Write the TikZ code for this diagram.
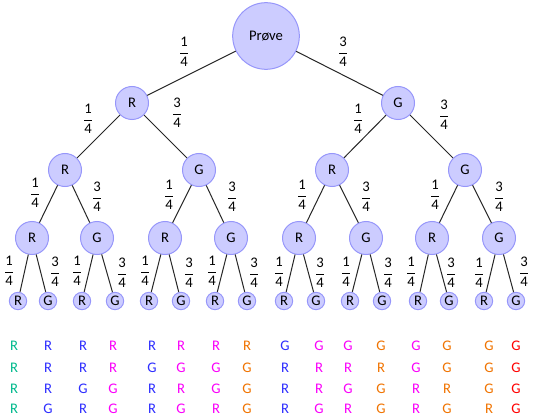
\documentclass[tikz,border=0pt]{standalone}
\usepackage{fontspec}
\setmainfont{Carlito}

\definecolor{knotfill}{RGB}{204,204,255}
\definecolor{knotline}{RGB}{150,150,250}
\definecolor{nullG}{RGB}{0,185,140}
\definecolor{einG}{RGB}{45,45,255}
\definecolor{toG}{RGB}{250,0,250}
\definecolor{treG}{RGB}{240,115,0}
\definecolor{fireG}{RGB}{255,0,0}

\newcommand{\frc}[2]{$\displaystyle\frac{\textrm{#1}}{\textrm{#2}}$}

\tikzset{every picture/.style={line width=0.75pt}}
\tikzset{
  knot/.style={circle,draw=knotline,fill=knotfill,inner sep=0pt,minimum size=24.75pt,font=\fontsize{11}{13}\selectfont},
  leaf/.style={knot,minimum size=13pt},
  gren/.style={draw=black!85},
  prob/.style={inner sep=0.75pt,font=\fontsize{11}{13}\selectfont},
  utfall/.style={inner sep=0.75pt,font=\fontsize{11}{13}\selectfont}
}

\begin{document}
\begin{tikzpicture}[x=0.75pt,y=0.75pt,yscale=-1,xscale=1]
		\useasboundingbox (0,0) rectangle (534,420);
		
		%root and first levels
		\node [knot,minimum size=50pt] (p) at (266,36) {Prøve};
		\node [knot] (r) at (132,103) {R};
		\node [knot] (g) at (398,103) {G};
		\node [knot] (rr) at (65,170) {R};
		\node [knot] (rg) at (199,170) {G};
		\node [knot] (gr) at (332,170) {R};
		\node [knot] (gg) at (465,170) {G};
		\node [knot] (rrr) at (32,238) {R};
		\node [knot] (rrg) at (97,238) {G};
		\node [knot] (rgr) at (165,238) {R};
		\node [knot] (rgg) at (231,238) {G};
		\node [knot] (grr) at (299,238) {R};
		\node [knot] (grg) at (366,238) {G};
		\node [knot] (ggr) at (432,238) {R};
		\node [knot] (ggg) at (499,238) {G};
		
		%leaves
		\node [leaf] (rrrr) at (18,301) {R};
		\node [leaf] (rrrg) at (48,301) {G};
		\node [leaf] (rrgr) at (82,301) {R};
		\node [leaf] (rrgg) at (115,301) {G};
		\node [leaf] (rgrr) at (149,301) {R};
		\node [leaf] (rgrg) at (181,301) {G};
		\node [leaf] (rggr) at (215,301) {R};
		\node [leaf] (rggg) at (247,301) {G};
		\node [leaf] (grrr) at (284,301) {R};
		\node [leaf] (grrg) at (316,301) {G};
		\node [leaf] (grgr) at (350,301) {R};
		\node [leaf] (grgg) at (382,301) {G};
		\node [leaf] (ggrr) at (418,301) {R};
		\node [leaf] (ggrg) at (449,301) {G};
		\node [leaf] (gggr) at (484,301) {R};
		\node [leaf] (gggg) at (516,301) {G};
		
		%branches
		\draw [gren] (p) -- (r) ;
		\draw [gren] (p) -- (g) ;
		\draw [gren] (r) -- (rr) ;
		\draw [gren] (r) -- (rg) ;
		\draw [gren] (g) -- (gr) ;
		\draw [gren] (g) -- (gg) ;
		\draw [gren] (rr) -- (rrr) ;
		\draw [gren] (rr) -- (rrg) ;
		\draw [gren] (rg) -- (rgr) ;
		\draw [gren] (rg) -- (rgg) ;
		\draw [gren] (gr) -- (grr) ;
		\draw [gren] (gr) -- (grg) ;
		\draw [gren] (gg) -- (ggr) ;
		\draw [gren] (gg) -- (ggg) ;
		\draw [gren] (rrr) -- (rrrr) ;
		\draw [gren] (rrr) -- (rrrg) ;
		\draw [gren] (rrg) -- (rrgr) ;
		\draw [gren] (rrg) -- (rrgg) ;
		\draw [gren] (rgr) -- (rgrr) ;
		\draw [gren] (rgr) -- (rgrg) ;
		\draw [gren] (rgg) -- (rggr) ;
		\draw [gren] (rgg) -- (rggg) ;
		\draw [gren] (grr) -- (grrr) ;
		\draw [gren] (grr) -- (grrg) ;
		\draw [gren] (grg) -- (grgr) ;
		\draw [gren] (grg) -- (grgg) ;
		\draw [gren] (ggr) -- (ggrr) ;
		\draw [gren] (ggr) -- (ggrg) ;
		\draw [gren] (ggg) -- (gggr) ;
		\draw [gren] (ggg) -- (gggg) ;
		
		%probabilities
		\node [prob] (pr) at (184,52) {\frc{1}{4}};
		\node [prob] (pg) at (343,52) {\frc{3}{4}};
		\node [prob] (rr-p) at (88,119) {\frc{1}{4}};
		\node [prob] (rg-p) at (177,113) {\frc{3}{4}};
		\node [prob] (gr-p) at (358,119) {\frc{1}{4}};
		\node [prob] (gg-p) at (444,115) {\frc{3}{4}};
		\node [prob] (rrr-p) at (35,193) {\frc{1}{4}};
		\node [prob] (rrg-p) at (97,197) {\frc{3}{4}};
		\node [prob] (rgr-p) at (169,195) {\frc{1}{4}};
		\node [prob] (rgg-p) at (232,197) {\frc{3}{4}};
		\node [prob] (grr-p) at (302,195) {\frc{1}{4}};
		\node [prob] (grg-p) at (366,197) {\frc{3}{4}};
		\node [prob] (ggr-p) at (435,195) {\frc{1}{4}};
		\node [prob] (ggg-p) at (499,197) {\frc{3}{4}};
		\node [prob] (rrrr-p) at (9,271) {\frc{1}{4}};
		\node [prob] (rrrg-p) at (55,272) {\frc{3}{4}};
		\node [prob] (rrgr-p) at (77,271) {\frc{1}{4}};
		\node [prob] (rrgg-p) at (122,273) {\frc{3}{4}};
		\node [prob] (rgrr-p) at (145,271) {\frc{1}{4}};
		\node [prob] (rgrg-p) at (189,273) {\frc{3}{4}};
		\node [prob] (rggr-p) at (212,271) {\frc{1}{4}};
		\node [prob] (rggg-p) at (254,273) {\frc{3}{4}};
		\node [prob] (grrr-p) at (279,272) {\frc{1}{4}};
		\node [prob] (grrg-p) at (320,273) {\frc{3}{4}};
		\node [prob] (grgr-p) at (346,272) {\frc{1}{4}};
		\node [prob] (grgg-p) at (388,273) {\frc{3}{4}};
		\node [prob] (ggrr-p) at (411,272) {\frc{1}{4}};
		\node [prob] (ggrg-p) at (451,273) {\frc{3}{4}};
		\node [prob] (gggr-p) at (479,273) {\frc{1}{4}};
		\node [prob] (gggg-p) at (524,272) {\frc{3}{4}};
		
		%outcomes
		\node [utfall,nullG] (u1a) at (14,346) {R}; \node [utfall,nullG] (u1b) at (14,368) {R}; \node [utfall,nullG] (u1c) at (14,389) {R}; \node [utfall,nullG] (u1d) at (14,409) {R};
		\node [utfall,einG] (u2a) at (48,346) {R}; \node [utfall,einG] (u2b) at (48,368) {R}; \node [utfall,einG] (u2c) at (48,389) {R}; \node [utfall,einG] (u2d) at (48,409) {G};
		\node [utfall,einG] (u3a) at (83,346) {R}; \node [utfall,einG] (u3b) at (83,368) {R}; \node [utfall,einG] (u3c) at (83,389) {G}; \node [utfall,einG] (u3d) at (83,409) {R};
		\node [utfall,toG] (u4a) at (113,346) {R}; \node [utfall,toG] (u4b) at (113,368) {R}; \node [utfall,toG] (u4c) at (113,389) {G}; \node [utfall,toG] (u4d) at (113,409) {G};
		\node [utfall,einG] (u5a) at (152,346) {R}; \node [utfall,einG] (u5b) at (152,368) {G}; \node [utfall,einG] (u5c) at (152,389) {R}; \node [utfall,einG] (u5d) at (152,409) {R};
		\node [utfall,toG] (u6a) at (181,346) {R}; \node [utfall,toG] (u6b) at (181,368) {G}; \node [utfall,toG] (u6c) at (181,389) {R}; \node [utfall,toG] (u6d) at (181,409) {G};
		\node [utfall,toG] (u7a) at (216,346) {R}; \node [utfall,toG] (u7b) at (216,368) {G}; \node [utfall,toG] (u7c) at (216,389) {G}; \node [utfall,toG] (u7d) at (216,409) {R};
		\node [utfall,treG] (u8a) at (247,346) {R}; \node [utfall,treG] (u8b) at (247,368) {G}; \node [utfall,treG] (u8c) at (247,389) {G}; \node [utfall,treG] (u8d) at (247,409) {G};
		\node [utfall,einG] (u9a) at (285,346) {G}; \node [utfall,einG] (u9b) at (285,368) {R}; \node [utfall,einG] (u9c) at (285,389) {R}; \node [utfall,einG] (u9d) at (285,409) {R};
		\node [utfall,toG] (u10a) at (319,346) {G}; \node [utfall,toG] (u10b) at (319,368) {R}; \node [utfall,toG] (u10c) at (319,389) {R}; \node [utfall,toG] (u10d) at (319,409) {G};
		\node [utfall,toG] (u11a) at (348,346) {G}; \node [utfall,toG] (u11b) at (348,368) {R}; \node [utfall,toG] (u11c) at (348,389) {G}; \node [utfall,toG] (u11d) at (348,409) {R};
		\node [utfall,treG] (u12a) at (381,346) {G}; \node [utfall,treG] (u12b) at (381,368) {R}; \node [utfall,treG] (u12c) at (381,389) {G}; \node [utfall,treG] (u12d) at (381,409) {G};
		\node [utfall,toG] (u13a) at (416,346) {G}; \node [utfall,toG] (u13b) at (416,368) {G}; \node [utfall,toG] (u13c) at (416,389) {R}; \node [utfall,toG] (u13d) at (416,409) {R};
		\node [utfall,treG] (u14a) at (447,346) {G}; \node [utfall,treG] (u14b) at (447,368) {G}; \node [utfall,treG] (u14c) at (447,389) {R}; \node [utfall,treG] (u14d) at (447,409) {G};
		\node [utfall,treG] (u15a) at (489,346) {G}; \node [utfall,treG] (u15b) at (489,368) {G}; \node [utfall,treG] (u15c) at (489,389) {G}; \node [utfall,treG] (u15d) at (489,409) {R};
		\node [utfall,fireG] (u16a) at (516,346) {G}; \node [utfall,fireG] (u16b) at (516,368) {G}; \node [utfall,fireG] (u16c) at (516,389) {G}; \node [utfall,fireG] (u16d) at (516,409) {G};
		
	\end{tikzpicture}
\end{document}
